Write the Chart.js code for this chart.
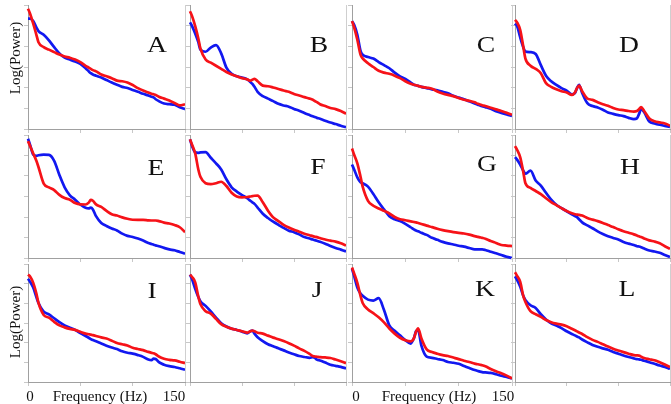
<!DOCTYPE html>
<html><head><meta charset="utf-8">
<script src="https://cdn.jsdelivr.net/npm/chart.js@4/dist/chart.umd.min.js"></script>
<style>
body{margin:0;background:#fff;}
#wrap{position:relative;width:671px;height:404px;overflow:hidden;background:#fff;}
canvas{position:absolute;}
.lbl{position:absolute;font-family:"Liberation Serif","Times New Roman",serif;color:#111;white-space:nowrap;line-height:1;}
</style></head><body><div id="wrap"></div>
<script>
// ---- data (arbitrary log-power units, 0-100) ----
const freqs = [0,2,5,8,10,15,20,25,30,35,40,45,50,55,58,60,62,65,70,75,80,85,90,95,100,105,110,115,118,120,122,125,130,135,140,145,150];
const xTickValues = [0,50,100,150];
const panelLetters = ['A','B','C','D','E','F','G','H','I','J','K','L'];

const redA = [97,93,85,76,70,66,64,62,60,58.5,57.5,56,54,51,49.5,48.5,47.5,46.5,44,42.5,41,39,38.5,37.5,35.5,33,31,29.5,28.5,28,27.5,26,24.5,23,21,19,20];
const blueA = [89,89,87,82,79,76,71.5,66,61,57.5,56,54.4,52.5,49,46.5,45,44,43,41.5,39.5,37.5,35.7,34,33,31.5,30,28.4,27,26,25.5,24,22.5,20.5,20,19.6,17.5,16];
const redB = [95,91,83,73,65,56,53.5,51,48.5,46,44,42.5,41,40,39,39.8,40.5,38.5,35,34.5,33.5,32.3,31,30,28.3,27,25.7,24.5,23.6,22.6,21.6,20,18.5,17,16,14.5,12.3];
const blueB = [86,83,77,70,64,62.3,65.7,67.6,61,49.5,44.5,42.5,41.5,40,38,36.3,34,30,26.5,24.5,22.5,20.3,19,18,16.2,14.8,12.9,11.2,10.2,9.6,9,8.3,6.7,5.2,4,2.6,1.5];
const redC = [87,82,72,60,57,53,50,47,45.5,44.5,43,41,38.5,36.5,35.7,35.3,34.8,34,33.3,32.5,30.3,28.7,27.5,26.5,25,23.6,22.7,21.5,20.3,19.7,19.2,18.5,17.2,15.8,14.5,13,11.5];
const blueC = [87,84,76,63,60,58,56.8,54,51.5,49,45.5,42.5,40.3,37.5,35.7,35.3,34.8,34,33,32,31.2,30,28.8,26.8,25.3,24,22.3,20.6,19.6,18.9,18.3,17.6,16.3,14.4,13,11.7,10.5];
const redD = [88,86,80,66.5,57,51,48.5,45,37,34,32,30.5,29.5,27.5,29.5,33,35,30.5,24.6,23.5,21.6,20,18.7,17,15.7,15.2,14.5,14,14.5,16,17.7,14.5,8.5,6.2,5.3,4.5,2.7];
const blueD = [85,83,74,66,62.5,62,60.5,51.5,43,38.5,35.5,33,31,28,29,33,35.7,29,20.8,18.5,17.3,15.5,13.4,12.2,11.2,10.4,9,8,8.6,12,16,13.5,6,4.5,3.4,2.5,1.6];
const redE = [95,91,85,79,74,60.5,57.4,55.2,51.3,48.7,47.4,44.7,43.6,43.5,45,47.3,46.5,43.6,41.5,38.3,35.6,34.5,33,31.9,31.1,31,31,30.6,30.5,30.5,30.5,30,28.8,28,26.8,25,21];
const blueE = [97,92,84,83,83.5,84,83.8,79,67.5,57.5,51,47.4,43.5,40.8,40.3,41,39.5,34,28.5,26,24,22.4,19.8,18,17.1,15.8,14.2,12.2,11.4,10.8,10.3,9.6,8.2,7,6.3,4.9,3.5];
const redF = [96.5,92,85,72,66,60.8,60,60.8,62,58.5,53,50,49.3,49.6,50,50.3,50.6,50.7,45.3,38.5,33,30,27,24.8,23,21.4,19.7,18.5,17.8,17.3,17,16.2,15,14.1,13.3,12,10.2];
const blueF = [96.5,91,86,85.5,85.8,86,81.5,77,72,64,57.5,54,51.2,48.6,46.5,45.2,44,41,36,32.5,29.5,27,24.5,22.2,21,19.2,17,15.8,15,14.5,14,13.2,11.6,9.8,8.2,6.8,5.4];
const redG = [89,84,77,66,58,46.5,42.5,40.3,38.3,36.2,33.3,31.5,30.7,29.8,29.3,29,28.5,27.7,26.3,25.1,23.8,22.7,21.8,21,20.4,19.9,19,17.8,17.2,16.8,16.4,15.7,13.8,12.2,10.6,10.1,9.7];
const blueG = [76,72,65.5,61.5,60.8,58,52,45.3,39.5,34,31.5,30.1,27.8,25,23.2,22.3,21.7,20.5,18.8,16.4,14.8,13.1,11.9,11,10,9.2,8.1,7,7,7,7,6.5,5.1,3.8,2.4,1,0];
const redH = [91,88,82,70,61,57,54.5,52,48.6,45.5,43,40.5,38.2,36.4,35.6,35.3,35,34.5,32.6,31.2,30,28.5,26.8,25.2,23.4,21.8,20.5,19.2,18.3,17.6,17,15.9,14.3,13.4,12,9.5,7.5];
const blueH = [82,80,76,71,68.5,71,63,58.8,53,47.5,43.3,40.5,38,35.5,34,33.2,31.5,29,26.5,24.2,21.6,19.5,17.7,16.3,15,13.1,11.7,10.5,9.6,9.3,8.8,7.7,6.1,5.3,4.2,2.5,0.8];
const redI = [91,89.5,84,75,67,56.8,54.5,51,48,46.3,45,44.2,42.5,41,40.5,40.2,39.7,39,37.8,36.8,35,33,32,31,29,28,27,25.5,24.7,24.3,23.5,21.6,19.7,18.8,18.3,17.2,16];
const blueI = [87.5,85,80,72,67,59.7,57.3,54,50.7,48,46,44.2,41.5,39,37.5,36.3,35.5,34.5,32.6,30.8,29.2,27.9,26,24.8,24,22.8,21.3,19,18.5,19.8,19.5,16.8,14.6,13.4,12.7,11.6,10.4];
const redJ = [91,89,84.5,72.4,66,60,58,53.5,49,46.8,45.2,44.1,43,41.8,43,43.6,43,41.8,41,39.3,37.6,36.3,34.7,32.9,30.8,28.5,26.4,23.8,22,21.6,21.4,21.1,20.8,20.3,19,17.6,16];
const blueJ = [91,87,79,72,68.5,64.5,59.8,54.5,49.8,47,45.2,44.1,42.7,41.2,43,43.5,41,38,34.7,32,30.3,28.5,26.8,25,23.5,22,21.2,20.5,21,20.5,19,18.3,16.5,14.6,13.7,12.8,11.5];
const redK = [97,92,84,73,67,61.5,58.3,54.8,50.5,45.3,41,37.5,35.4,34.4,37,42.5,45.5,37,27.6,25.4,24,22.8,22,20.7,19.4,18,16.9,15.6,15,14.6,14.2,13.3,11,9.1,7.4,5.4,3];
const blueK = [96,90,80,75,73,69.8,69,71,61,48,43.4,39.5,35.5,32.5,37,43,44,31,21.5,20.5,19.5,18.6,17,16.3,15.4,13.6,11.8,10.1,9.3,8.8,8.4,8.1,7.7,6.6,5.3,4.3,3];
const redL = [93,90,85,73,68,60,57.4,55.2,52.5,50.7,49.5,48.6,47.2,45.1,43.8,42.9,42,40.7,38,35.7,34,32,30,28.2,26.7,25.3,24,22.8,22.5,22.4,21.5,20.3,19.3,18.4,16.7,14.8,12.6];
const blueL = [89.5,86.5,81,73,69.5,65,62.7,57.4,53,49.8,47.8,45.7,43,40.7,39.5,38.5,37.8,36,33.6,31.4,29.8,28.5,27.3,25.5,24,22.5,21.2,20,19.4,19.2,18.8,18,16.8,15.4,14,12.8,11.2];

const redSeries = [redA,redB,redC,redD,redE,redF,redG,redH,redI,redJ,redK,redL];
const blueSeries = [blueA,blueB,blueC,blueD,blueE,blueF,blueG,blueH,blueI,blueJ,blueK,blueL];

// ---- layout ----
const colX = [[28,185],[190,346],[352,512],[515,670]];
const rowY = [[5,129],[135,258],[264,382]];
const letterPos = [[157,53],[319,53],[486,53],[629,53],[156,176],[318,175],[487,172],[630,175],[152,299],[317,298],[485,297],[627,297]];
const RED = 'rgb(246,18,24)', BLUE = 'rgb(18,24,240)';
const wrap = document.getElementById('wrap');

function addLabel(text, cx, cy, size, rotate, sx) {
  const d = document.createElement('div');
  d.className = 'lbl';
  d.textContent = text;
  d.style.fontSize = size + 'px';
  d.style.left = cx + 'px';
  d.style.top = cy + 'px';
  d.style.transform = 'translate(-50%,-50%)' + (rotate ? ' rotate(-90deg)' : '') + (sx ? ' scaleX(' + sx + ')' : '');
  wrap.appendChild(d);
  return d;
}

const PL = 2, PT = 4, PR = 2, PB = 2, TL = 4;
panelLetters.forEach((letter, i) => {
  const c = i % 4, r = Math.floor(i / 4);
  const [L, R] = colX[c], [T, B] = rowY[r];
  const cv = document.createElement('canvas');
  const w = (R - L) + PL + TL + PR, h = (B - T) + PT + TL + PB;
  cv.width = w; cv.height = h;
  cv.style.left = (L - PL - TL) + 'px';
  cv.style.top = (T - PT) + 'px';
  cv.style.width = w + 'px'; cv.style.height = h + 'px';
  wrap.appendChild(cv);
  new Chart(cv, {
    type: 'line',
    data: {
      labels: freqs,
      datasets: [
        {data: blueSeries[i], borderColor: BLUE, borderWidth: 2.7, pointRadius: 0, cubicInterpolationMode: 'monotone', fill: false, clip: false, order: 2},
        {data: redSeries[i], borderColor: RED, borderWidth: 2.7, pointRadius: 0, cubicInterpolationMode: 'monotone', fill: false, clip: false, order: 1}
      ]
    },
    options: {
      responsive: false, animation: false, devicePixelRatio: 1,
      layout: {padding: {left: PL, top: PT, right: PR, bottom: PB}},
      plugins: {legend: {display: false}, tooltip: {enabled: false}},
      scales: {
        x: {type: 'linear', min: 0, max: 150,
            afterBuildTicks: s => { s.ticks = xTickValues.map(v => ({value: v})); },
            ticks: {display: false},
            grid: {drawOnChartArea: false, drawTicks: true, tickLength: TL, color: '#c8c8c8'},
            border: {display: true, color: '#a0a0a0', width: 1}},
        y: {type: 'linear', min: 0, max: 100,
            ticks: {display: false, count: 7},
            grid: {drawOnChartArea: false, drawTicks: true, tickLength: TL, color: '#c8c8c8'},
            border: {display: true, color: '#a0a0a0', width: 1}}
      }
    },
    plugins: [{
      id: 'rightEdge',
      afterDraw(chart) {
        const ctx = chart.ctx, a = chart.chartArea;
        ctx.save(); ctx.strokeStyle = '#cfcfcf'; ctx.lineWidth = 1;
        ctx.beginPath(); ctx.moveTo(Math.round(a.right) + 0.5, a.top); ctx.lineTo(Math.round(a.right) + 0.5, a.bottom); ctx.stroke();
        ctx.restore();
      }
    }]
  });
  const [lx, ly] = letterPos[i];
  addLabel(letter, lx, ly - 9, 24, false, 1.15);
});

addLabel('Log(Power)', 15, 58, 15, true);
addLabel('Log(Power)', 15, 322, 15, true);
addLabel('0', 30, 396, 15, false);
addLabel('Frequency (Hz)', 100, 396, 15, false);
addLabel('150', 174, 396, 15, false);
addLabel('0', 356, 396, 15, false);
addLabel('Frequency (Hz)', 429, 396, 15, false);
addLabel('150', 503, 396, 15, false);
</script></body></html>
